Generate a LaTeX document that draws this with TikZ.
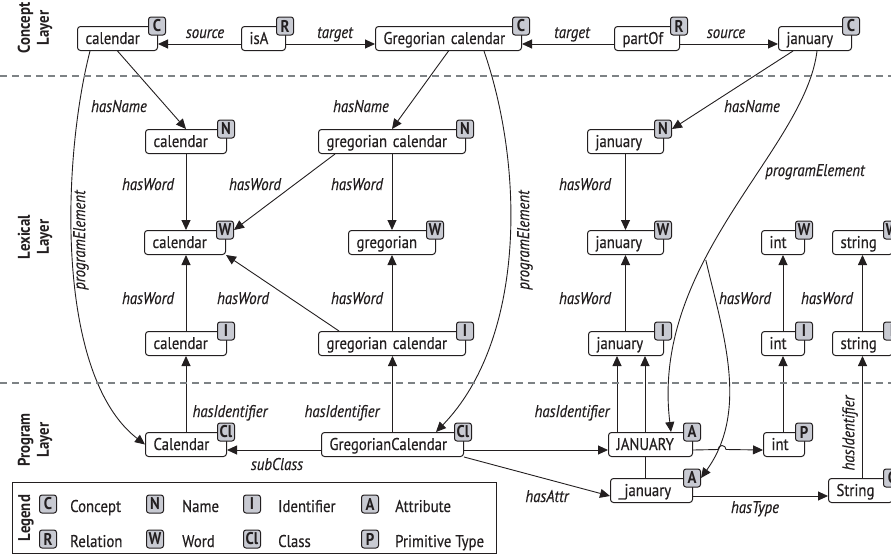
\documentclass[tikz,border=0pt]{standalone}
\usepackage{fontspec}
\setmainfont{PT Sans}[FakeStretch=0.87, UprightFeatures={FakeBold=0.4}, ItalicFeatures={FakeBold=0.4}]
\usetikzlibrary{arrows.meta,backgrounds}
\definecolor{ink}{RGB}{35,31,32}
\definecolor{badgefill}{RGB}{200,202,210}
\definecolor{dashgray}{RGB}{125,130,133}
\hyphenpenalty=10000
\exhyphenpenalty=10000
\tikzset{
  box/.style={draw=ink, line width=1pt, rounded corners=3pt, fill=white, inner xsep=8pt, inner ysep=0pt,
    minimum height=24pt, text height=17.5pt, text depth=6.5pt, text width=#1, align=left, anchor=north west,
    font=\fontsize{17}{20}\selectfont},
  badge/.style={draw=ink, line width=1pt, fill=badgefill, rounded corners=2.5pt, inner sep=0pt,
    minimum width=17pt, minimum height=18pt, font=\fontsize{17}{17}\selectfont\bfseries},
  lab/.style={font=\fontsize{17}{20}\selectfont\itshape, inner sep=0pt, anchor=base},
  rlab/.style={font=\fontsize{17}{20}\selectfont\itshape, inner sep=0pt, rotate=90},
  layer/.style={font=\fontsize{17}{19}\selectfont\bfseries, rotate=90, align=center, inner sep=0pt},
  legtxt/.style={font=\fontsize{17}{20}\selectfont, inner sep=0pt, anchor=base west},
  arr/.style={draw=ink, line width=0.9pt, -{Triangle[length=10pt,width=9pt]}},
  conn/.style={draw=ink, line width=0.9pt},
  sepline/.style={draw=dashgray, line width=2pt, dash pattern=on 7pt off 5pt}
}
\begin{document}
\begin{tikzpicture}[x=1pt, y=-1pt, text=ink]
\useasboundingbox (0,0) rectangle (891,554);

% layer separators
\draw[sepline] (0,76) -- (891,76);
\draw[sepline] (0,383) -- (891,383);

% layer titles
\node[layer] (ly1) at (35,28) {Concept\\Layer};
\node[layer] (ly2) at (35,237) {Lexical\\Layer};
\node[layer] (ly3) at (35,440) {Program\\Layer};

% concept layer
\node[box=64pt] (cC) at (77,26) {calendar};
\node[badge] (bcC) at ([xshift=-1pt]cC.north east) {C};
\node[box=28pt] (isA) at (241,26) {isA};
\node[badge] (bisA) at ([xshift=-1pt]isA.north east) {R};
\node[box=130pt] (gC) at (375,26) {Gregorian calendar};
\node[badge] (bgC) at ([xshift=-1pt]gC.north east) {C};
\node[box=49pt] (partOf) at (614,26) {partOf};
\node[badge] (bpartOf) at ([xshift=-1pt]partOf.north east) {R};
\node[box=57pt] (jC) at (778,26) {january};
\node[badge] (bjC) at ([xshift=-1pt]jC.north east) {C};

% lexical layer: names
\node[box=65pt] (calN) at (145,129) {calendar};
\node[badge] (bcalN) at ([xshift=-1pt]calN.north east) {N};
\node[box=131pt] (gcN) at (318,129) {gregorian calendar};
\node[badge] (bgcN) at ([xshift=-1pt]gcN.north east) {N};
\node[box=60pt] (janN) at (587,129) {january};
\node[badge] (bjanN) at ([xshift=-1pt]janN.north east) {N};

% lexical layer: words
\node[box=65pt] (calW) at (144,230) {calendar};
\node[badge] (bcalW) at ([xshift=-1pt]calW.north east) {W};
\node[box=71pt] (gregW) at (348,230) {gregorian};
\node[badge] (bgregW) at ([xshift=-1pt]gregW.north east) {W};
\node[box=60pt] (janW) at (587,230) {january};
\node[badge] (bjanW) at ([xshift=-1pt]janW.north east) {W};
\node[box=27pt] (intW) at (761,230) {int};
\node[badge] (bintW) at ([xshift=-1pt]intW.north east) {W};
\node[box=44pt] (strW) at (832,230) {string};
\node[badge] (bstrW) at ([xshift=-1pt]strW.north east) {W};

% lexical layer: identifiers
\node[box=65pt] (calI) at (145,331) {calendar};
\node[badge] (bcalI) at ([xshift=-1pt]calI.north east) {I};
\node[box=131pt] (gcI) at (318,331) {gregorian calendar};
\node[badge] (bgcI) at ([xshift=-1pt]gcI.north east) {I};
\node[box=59pt] (janI) at (588,331) {january};
\node[badge] (bjanI) at ([xshift=-1pt]janI.north east) {I};
\node[box=27pt] (intI) at (761,331) {int};
\node[badge] (bintI) at ([xshift=-1pt]intI.north east) {I};
\node[box=44pt] (strI) at (832,331) {string};
\node[badge] (bstrI) at ([xshift=-1pt]strI.north east) {I};

% program layer
\node[box=65pt] (Cal) at (145,432) {Calendar};
\node[badge] (bCal) at ([xshift=-1pt]Cal.north east) {Cl};
\node[box=126pt] (GC) at (321,432) {GregorianCalendar};
\node[badge] (bGC) at ([xshift=-1pt]GC.north east) {Cl};
\node[box=68pt] (JAN) at (608,432) {JANUARY};
\node[badge] (bJAN) at ([xshift=-1pt]JAN.north east) {A};
\node[box=25pt] (intP) at (763,432) {int};
\node[badge] (bintP) at ([xshift=-1pt]intP.north east) {P};
\node[box=66pt] (jan2) at (610,478) {\_january};
\node[badge] (bjan2) at ([xshift=-1pt]jan2.north east) {A};
\node[box=48pt] (Str) at (828,478) {String};
\node[badge] (bStr) at ([xshift=-1pt]Str.north east) {C};

\coordinate (j1) at ([xshift=9pt]JAN.north west);
\coordinate (j2) at ([xshift=35pt]jan2.north west);
\coordinate (hop) at (722,449.5);

\begin{pgfonlayer}{background}
% concept relations
\draw[arr] (isA.base west) -- (cC.base east);
\draw[arr] (isA.base east) -- (gC.base west);
\draw[arr] (partOf.base west) -- (gC.base east);
\draw[arr] (partOf.base east) -- (jC.base west);
% hasName
\draw[arr] (cC.south) -- (calN.north);
\draw[arr] (gC.south) -- (gcN.north);
\draw[arr] ([xshift=15pt]jC.south west) -- (bjanN.east);
% hasWord
\draw[arr] (calN.south) -- (calN.south |- calW.north);
\draw[arr] ([xshift=17pt]gcN.south west) -- (bcalW.east);
\draw[arr] (gregW.north |- gcN.south) -- (gregW.north);
\draw[arr] (janN.south) -- (janN.south |- janW.north);
\draw[arr] (calI.north) -- (calI.north |- calW.south);
\draw[arr] ([xshift=21pt]gcI.north west) -- (calW.south east);
\draw[arr] (gregW.south |- gcI.north) -- (gregW.south);
\draw[arr] (janW.south |- janI.north) -- (janW.south);
\draw[arr] (intI.north) -- (intI.north |- intW.south);
\draw[arr] (strI.north) -- (strI.north |- strW.south);
% hasIdentifier
\draw[arr] (calI.south |- Cal.north) -- (calI.south);
\draw[arr] (GC.north) -- (GC.north |- gcI.south);
\draw[arr] (j1) -- (j1 |- janI.south);
\draw[arr] (j2) -- (j2 |- janI.south);
\draw[arr] (intI.south |- intP.north) -- (intI.south);
\draw[arr] (strI.south |- Str.north) -- (strI.south);
% program relations
\draw[arr] (GC.base west) -- (Cal.base east);
\draw[arr] (GC.base east) -- (JAN.base west);
\draw[arr] (GC.south east) -- (jan2.base west);
\draw[arr] (JAN.base east) -- ([xshift=-4pt]hop) arc[start angle=180,end angle=0,radius=4pt] -- (intP.base west);
\draw[arr] (jan2.base east) -- (Str.base west);
% programElement
\draw[arr] ([xshift=13pt]cC.south west) .. controls (62,160) and (55,375) .. (Cal.west);
\draw[arr] ([xshift=-38pt]gC.south east) .. controls (525,170) and (525,340) .. ([xshift=-28pt]GC.north east);
\draw[arr] ([xshift=2pt]jC.south) .. controls (805,150) and (650,260) .. ([xshift=-22pt]JAN.north east) coordinate[pos=0.62] (br);
\draw[arr] (br) .. controls (722,330) and (750,410) .. (bjan2.east);
\end{pgfonlayer}

% edge labels
\node[lab] (l1) at (205,38) {source};
\node[lab] (l2) at (335,38) {target};
\node[lab] (l3) at (572,38) {target};
\node[lab] (l4) at (726,38) {source};
\node[lab] (l5) at (119,112) {hasName};
\node[lab] (l6) at (361,112) {hasName};
\node[lab] (l7) at (752,112) {hasName};
\node[lab] (l8) at (148,190) {hasWord};
\node[lab] (l9) at (255,190) {hasWord};
\node[lab] (l10) at (357,190) {hasWord};
\node[lab] (l11) at (585,190) {hasWord};
\node[lab] (l12) at (148,304) {hasWord};
\node[lab] (l13) at (243,304) {hasWord};
\node[lab] (l14) at (357,304) {hasWord};
\node[lab] (l15) at (585,304) {hasWord};
\node[lab] (l16) at (745,304) {hasWord};
\node[lab] (l17) at (827,304) {hasWord};
\node[rlab] (l18) at (81,240) {programElement};
\node[rlab] (l19) at (525,240) {programElement};
\node[lab] (l20) at (815,176) {programElement};
\node[lab] (l21) at (230,417) {hasIdentifier};
\node[lab] (l22) at (342,417) {hasIdentifier};
\node[lab] (l23) at (572,417) {hasIdentifier};
\node[rlab] (l24) at (850,433) {hasIdentifier};
\node[lab] (l25) at (277,470) {subClass};
\node[lab] (l26) at (547,502) {hasAttr};
\node[lab] (l27) at (755,513) {hasType};

% legend
\node[draw=ink, line width=1.2pt, minimum width=484pt, minimum height=71pt, anchor=north west, inner sep=0pt] (leg) at (12,482) {};
\node[layer] (legt) at (26,518) {Legend};
\node[badge] (lgC) at (48,504) {C};
\node[legtxt] (tgC) at (70,512) {Concept};
\node[badge] (lgN) at (155,504) {N};
\node[legtxt] (tgN) at (182,512) {Name};
\node[badge] (lgI) at (252,504) {I};
\node[legtxt] (tgI) at (278,512) {Identifier};
\node[badge] (lgA) at (370,504) {A};
\node[legtxt] (tgA) at (395,512) {Attribute};
\node[badge] (lgR) at (48,539) {R};
\node[legtxt] (tgR) at (70,547) {Relation};
\node[badge] (lgW) at (155,539) {W};
\node[legtxt] (tgW) at (182,547) {Word};
\node[badge] (lgCl) at (252,539) {Cl};
\node[legtxt] (tgCl) at (278,547) {Class};
\node[badge] (lgP) at (370,539) {P};
\node[legtxt] (tgP) at (395,547) {Primitive Type};
\end{tikzpicture}
\end{document}
